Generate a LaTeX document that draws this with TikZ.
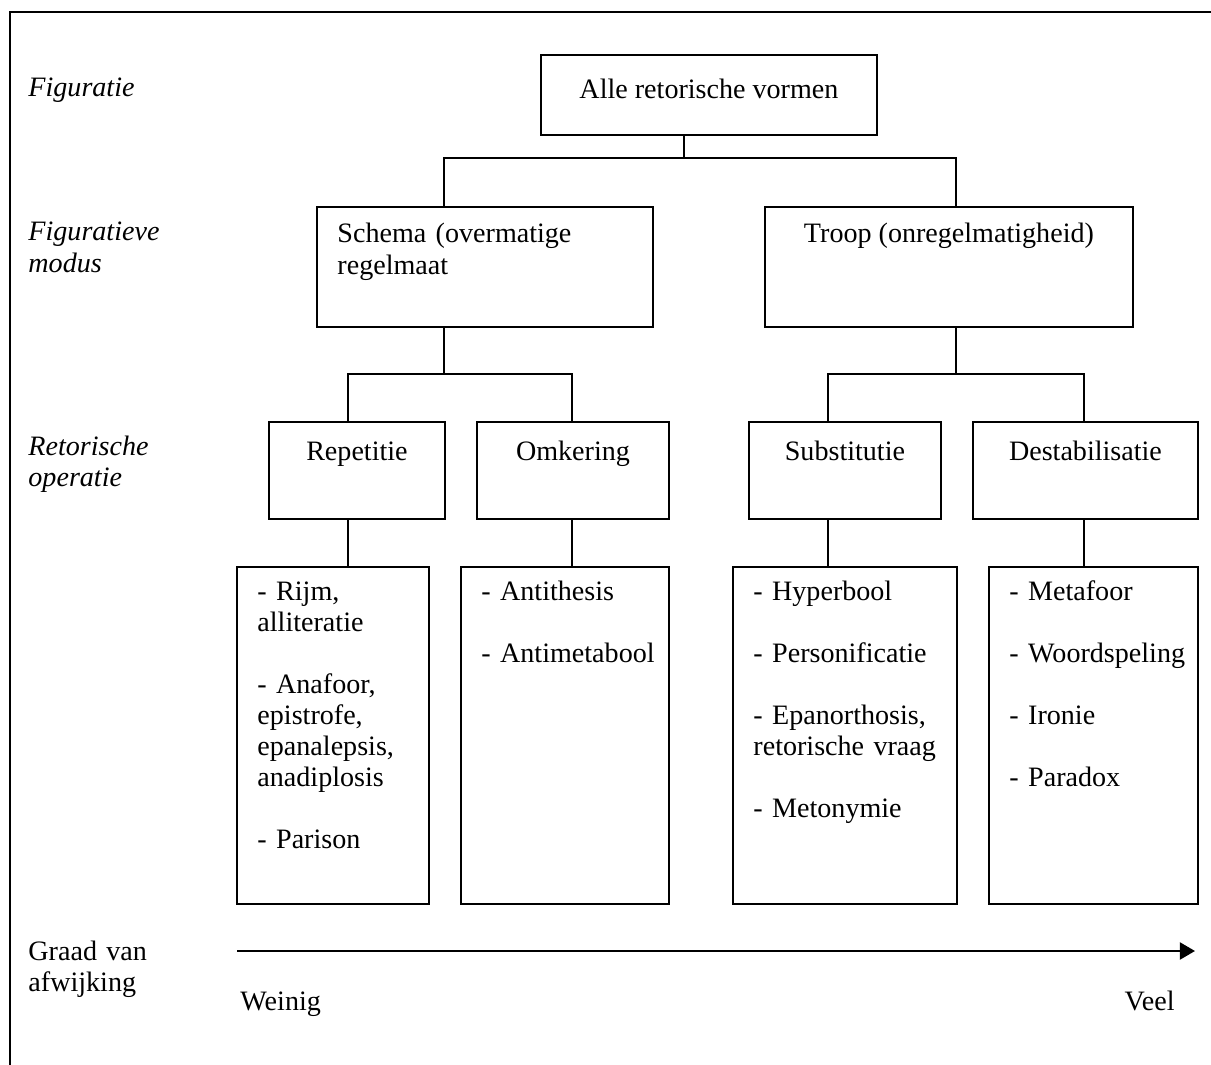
\documentclass[tikz,border=0pt]{standalone}
\usepackage{fontspec}
\setmainfont{Liberation Serif}
\usepackage{tikz}
\usetikzlibrary{positioning, arrows.meta}
\newcommand*\pxu{0.445pt}

\begin{document}
\begin{tikzpicture}[
        x=0.445pt, y=-0.445pt,
        font=\fontsize{12.5pt}{13.8pt}\selectfont,
        box/.style   = {draw, line width=0.85pt, inner sep=0pt, anchor=north west},
        lbl/.style   = {inner sep=0pt},
        items/.style = {inner sep=0pt, text width=300*\pxu, align=left},
        side/.style  = {items, anchor=base west, font=\fontsize{12.5pt}{13.8pt}\selectfont\itshape},
        wire/.style  = {line width=0.85pt},
        axis/.style  = {-{Triangle[length=6.7pt, width=7.5pt]}, line width=1.1pt},
        frame/.style = {line width=1.3pt},
    ]
        \useasboundingbox (0,0) rectangle (1211,1065);
        \draw[frame] (1211,12) -- (10,12) -- (10,1065);

        \node[side] (fig) at (28,97) {Figuratie};
        \node[side] (mod) at (28,241) {Figuratieve\\modus};
        \node[side] (oper) at (28,455) {Retorische\\operatie};
        \node[items, anchor=base west] (graad) at (28,960) {Graad van\\afwijking};

        \node[box, minimum width=336*\pxu, minimum height=80*\pxu] (alle) at (540,54) {};
        \node[lbl, below=45*\pxu of alle.north, anchor=base] (alletxt) {Alle retorische vormen};

        \node[box, minimum width=336*\pxu, minimum height=120*\pxu] (schema) at (316,206) {};
        \node[items, below right=37*\pxu and 21*\pxu of schema.north west, anchor=base west] (schematxt) {Schema (overmatige\\regelmaat};
        \node[box, minimum width=368*\pxu, minimum height=120*\pxu] (troop) at (764,206) {};
        \node[lbl, below=37*\pxu of troop.north, anchor=base] (trooptxt) {Troop (onregelmatigheid)};

        \node[box, minimum width=176*\pxu, minimum height=97*\pxu] (rep) at (268,421) {};
        \node[box, minimum width=192*\pxu, minimum height=97*\pxu] (omk) at (476,421) {};
        \node[box, minimum width=192*\pxu, minimum height=97*\pxu] (sub) at (748,421) {};
        \node[box, minimum width=225*\pxu, minimum height=97*\pxu] (des) at (972,421) {};
        \node[lbl, below=39*\pxu of rep.north, anchor=base] (reptxt) {Repetitie};
        \node[lbl, below=39*\pxu of omk.north, anchor=base] (omktxt) {Omkering};
        \node[lbl, below=39*\pxu of sub.north, anchor=base] (subtxt) {Substitutie};
        \node[lbl, below=39*\pxu of des.north, anchor=base] (destxt) {Destabilisatie};

        \node[box, minimum width=192*\pxu, minimum height=337*\pxu] (replist) at (236,566) {};
        \node[box, minimum width=208*\pxu, minimum height=337*\pxu] (omklist) at (460,566) {};
        \node[box, minimum width=224*\pxu, minimum height=337*\pxu] (sublist) at (732,566) {};
        \node[box, minimum width=209*\pxu, minimum height=337*\pxu] (deslist) at (988,566) {};
        \node[items, below right=34*\pxu and 21*\pxu of replist.north west, anchor=base west] (repitems)
            {- Rijm,\\alliteratie\\[13.8pt]- Anafoor,\\epistrofe,\\epanalepsis,\\anadiplosis\\[13.8pt]- Parison};
        \node[items, below right=34*\pxu and 21*\pxu of omklist.north west, anchor=base west] (omkitems)
            {- Antithesis\\[13.8pt]- Antimetabool};
        \node[items, below right=34*\pxu and 21*\pxu of sublist.north west, anchor=base west] (subitems)
            {- Hyperbool\\[13.8pt]- Personificatie\\[13.8pt]- Epanorthosis,\\retorische vraag\\[13.8pt]- Metonymie};
        \node[items, below right=34*\pxu and 21*\pxu of deslist.north west, anchor=base west] (desitems)
            {- Metafoor\\[13.8pt]- Woordspeling\\[13.8pt]- Ironie\\[13.8pt]- Paradox};

        \coordinate (bus1) at (684,158);
        \coordinate (busl) at (444,374);
        \coordinate (busr) at (956,374);
        \coordinate (jrep) at (348,540);
        \coordinate (jomk) at (572,540);
        \coordinate (jsub) at (828,540);
        \coordinate (jdes) at (1084,540);

        \draw[wire] (alle.south -| bus1) -- (bus1);
        \draw[wire] (schema.north -| busl) |- (bus1) -| (troop.north -| busr);
        \draw[wire] (schema.south -| busl) -- (busl);
        \draw[wire] (troop.south -| busr) -- (busr);
        \draw[wire] (rep.north -| jrep) |- (busl) -| (omk.north -| jomk);
        \draw[wire] (sub.north -| jsub) |- (busr) -| (des.north -| jdes);
        \draw[wire] (rep.south -| jrep) -- (replist.north -| jrep);
        \draw[wire] (omk.south -| jomk) -- (omklist.north -| jomk);
        \draw[wire] (sub.south -| jsub) -- (sublist.north -| jsub);
        \draw[wire] (des.south -| jdes) -- (deslist.north -| jdes);

        \coordinate (lo) at (237,951);
        \coordinate (hi) at (1195,951);
        \draw[axis] (lo) -- (hi);
        \node[lbl, anchor=base west] (weinig) at (240,1010) {Weinig};
        \node[lbl, anchor=base east] (veel) at (1175,1010) {Veel};
    \end{tikzpicture}
\end{document}
